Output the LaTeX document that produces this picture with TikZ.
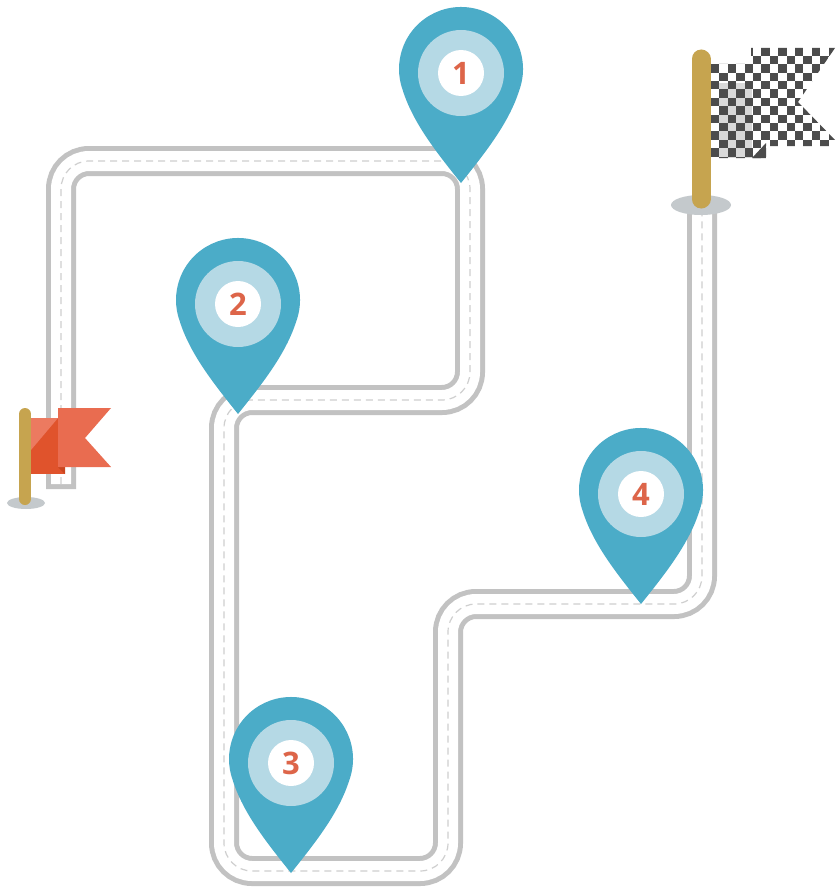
\documentclass[tikz,border=0pt]{standalone}
\usepackage{fontspec}
\setmainfont{Open Sans}
\definecolor{pinblue}{HTML}{4BACC8}
\definecolor{pinring}{HTML}{B5D9E5}
\definecolor{numred}{HTML}{DD6549}
\definecolor{roadgray}{HTML}{C2C2C2}
\definecolor{dashgray}{HTML}{CFCFCF}
\definecolor{poletan}{HTML}{C6A44F}
\definecolor{basegray}{HTML}{C4C9CC}
\definecolor{flagfront}{HTML}{E96C50}
\definecolor{flagback}{HTML}{E0532C}
\definecolor{flaglight}{HTML}{EC7A60}
\definecolor{flagdark}{HTML}{C9461F}
\definecolor{checkdark}{HTML}{4C4C4C}
\definecolor{checklight}{HTML}{D9D9D9}
\tikzset{
  x=1pt,y=1pt,
  roadouter/.style={draw=roadgray,line width=30pt,rounded corners=28pt},
  roadinner/.style={draw=white,line width=20pt,rounded corners=28pt},
  roaddash/.style={draw=dashgray,line width=1.2pt,dash pattern=on 7pt off 5pt,rounded corners=28pt},
  numlabel/.style={text=numred,font=\bfseries\fontsize{31}{31}\selectfont,inner sep=0pt},
}
\newcommand{\mappin}[4]{%
  \coordinate (c#1) at (#2,-#3);
  \coordinate (t#1) at (#2,-#3-114);
  \coordinate (m#1) at (#2,-#3-4);
  \fill[pinblue] (c#1) ++(-20:62pt) arc (-20:200:62pt)
     .. controls ($(c#1)+(-48,-54)$) and ($(c#1)+(-24,-84)$) .. (t#1)
     .. controls ($(c#1)+(24,-84)$) and ($(c#1)+(48,-54)$) .. cycle;
  \fill[pinring] (m#1) circle (43pt);
  \fill[white] (m#1) circle (23pt);
  \node[numlabel] (n#1) at (m#1) {#4};
}
\usetikzlibrary{calc}
\begin{document}
\begin{tikzpicture}
\useasboundingbox (0,0) rectangle (835,-888);
\fill[white] (0,0) rectangle (835,-888);
% road way points
\coordinate (r0) at (61,-489);
\coordinate (r0i) at (61,-484);
\coordinate (r1) at (61,-161);
\coordinate (r2) at (470,-161);
\coordinate (r3) at (470,-400);
\coordinate (r4) at (224,-400);
\coordinate (r5) at (224,-871);
\coordinate (r6) at (448,-871);
\coordinate (r7) at (448,-604);
\coordinate (r8) at (702,-604);
\coordinate (r9) at (702,-205);
\draw[roadouter] (r0) -- (r1) -- (r2) -- (r3) -- (r4) -- (r5) -- (r6) -- (r7) -- (r8) -- (r9);
\draw[roadinner] (r0i) -- (r1) -- (r2) -- (r3) -- (r4) -- (r5) -- (r6) -- (r7) -- (r8) -- (r9);
\draw[roaddash] (r0i) -- (r1) -- (r2) -- (r3) -- (r4) -- (r5) -- (r6) -- (r7) -- (r8) -- (r9);
% start flag
\fill[basegray] (26,-503) ellipse (19pt and 6pt);
\fill[flagback] (31,-418) rectangle (65,-474);
\fill[flaglight] (31,-418) -- (58,-418) -- (31,-450) -- cycle;
\fill[flagdark] (58,-467) -- (65,-474) -- (65,-467) -- cycle;
\fill[flagfront] (58,-408) -- (111,-408) -- (85,-438) -- (111,-467) -- (58,-467) -- cycle;
\draw[poletan,line width=12pt,line cap=round] (25,-414) -- (25,-499);
% finish flag
\fill[basegray] (701,-205) ellipse (30pt and 10pt);
\begin{scope}
  \clip (711,-64) -- (751,-64) -- (751,-48) -- (835,-48) -- (798,-102) -- (835,-140) -- (835,-146) -- (766,-146) -- (766,-158) -- (711,-158) -- cycle;
  \fill[checklight] (719,-83) rectangle (752,-158);
  \foreach \i in {0,...,15}{
    \foreach \j in {0,...,13}{
      \pgfmathtruncatemacro{\k}{mod(\i+\j,2)}
      \ifnum\k=0
        \fill[checkdark] ({711+8.4*\i},{-47.5-8.4*\j}) rectangle ++(8.4,-8.4);
      \fi
    }
  }
  \fill[checkdark] (752,-158) -- (766,-158) -- (766,-143) -- cycle;
\end{scope}
\draw[poletan,line width=19pt,line cap=round] (701,-59) -- (701,-199);
% pins
\mappin{a}{461}{69}{1}
\mappin{b}{238}{300}{2}
\mappin{d}{291}{759}{3}
\mappin{e}{641}{490}{4}
\end{tikzpicture}
\end{document}
